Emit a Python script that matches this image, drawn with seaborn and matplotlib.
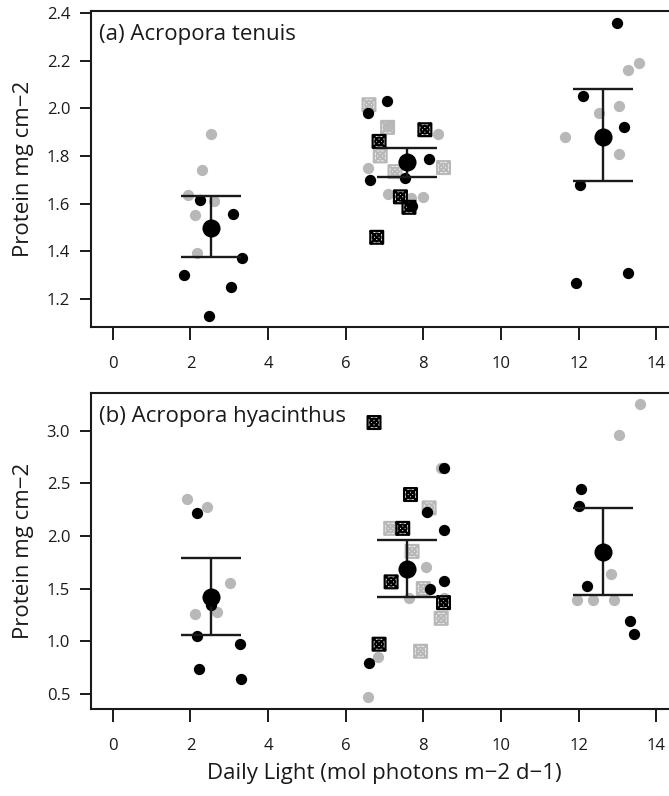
import numpy as np
import pandas as pd
import matplotlib
matplotlib.use("Agg")
import matplotlib.pyplot as plt
from matplotlib.path import Path
import seaborn as sns

# ---------------- data ----------------
x_ticks = [0, 2, 4, 6, 8, 10, 12, 14]
a_yticks = [1.2, 1.4, 1.6, 1.8, 2.0, 2.2, 2.4]
b_yticks = [0.5, 1.0, 1.5, 2.0, 2.5, 3.0]
panel_titles = ["(a) Acropora tenuis", "(b) Acropora hyacinthus"]
x_label = "Daily Light (mol photons m\u22122 d\u22121)"
y_label = "Protein mg cm\u22122"

# Panel (a)
a_black_x = [2.26, 3.10, 3.32, 1.83, 3.05, 2.47, 7.06, 6.58, 8.15, 6.62, 7.53, 7.72,
             12.98, 12.11, 13.16, 12.04, 11.92, 13.27]
a_black_y = [1.616, 1.557, 1.369, 1.299, 1.248, 1.127, 2.030, 1.981, 1.789, 1.698, 1.708, 1.588,
             2.360, 2.050, 1.920, 1.677, 1.268, 1.306]
a_grey_x = [2.54, 2.29, 1.94, 2.60, 2.12, 2.16, 7.09, 8.37, 6.58, 7.08, 8.00, 7.67,
            13.55, 13.27, 13.03, 12.52, 11.65, 13.05]
a_grey_y = [1.892, 1.739, 1.635, 1.609, 1.550, 1.391, 1.927, 1.892, 1.751, 1.638, 1.628, 1.624,
            2.192, 2.160, 2.009, 1.979, 1.880, 1.810]
a_bbox_x = [6.86, 8.04, 7.41, 7.63, 6.80]
a_bbox_y = [1.861, 1.910, 1.628, 1.584, 1.458]
a_gbox_x = [6.60, 7.08, 6.89, 7.27, 8.52]
a_gbox_y = [2.015, 1.920, 1.800, 1.734, 1.751]
a_mean_x = [2.52, 7.58, 12.64]
a_mean = [1.499, 1.775, 1.880]
a_lo = [1.376, 1.711, 1.694]
a_hi = [1.631, 1.835, 2.080]

# Panel (b)
b_black_x = [2.18, 2.54, 2.16, 3.29, 2.21, 3.30, 8.52, 8.10, 8.52, 8.52, 8.16, 6.60,
             12.06, 12.00, 12.22, 13.33, 13.42]
b_black_y = [2.220, 1.344, 1.051, 0.968, 0.739, 0.643, 2.650, 2.229, 2.060, 1.576, 1.497, 0.796,
             2.449, 2.290, 1.525, 1.191, 1.067]
b_grey_x = [1.91, 2.43, 3.02, 2.13, 2.69, 2.49, 8.46, 8.08, 7.63, 8.54, 6.84, 6.58,
            13.58, 13.03, 12.83, 11.95, 12.36, 12.91]
b_grey_y = [2.354, 2.274, 1.551, 1.258, 1.280, 1.424, 2.650, 1.710, 1.408, 1.408, 0.850, 0.468,
            3.255, 2.962, 1.640, 1.392, 1.392, 1.392]
b_bbox_x = [6.73, 7.67, 7.47, 7.17, 6.86, 8.52]
b_bbox_y = [3.080, 2.395, 2.073, 1.564, 0.971, 1.366]
b_gbox_x = [8.15, 7.16, 7.71, 8.46, 7.93, 8.00]
b_gbox_y = [2.268, 2.073, 1.854, 1.217, 0.904, 1.500]
b_mean_x = [2.52, 7.58, 12.64]
b_mean = [1.417, 1.685, 1.844]
b_lo = [1.057, 1.424, 1.436]
b_hi = [1.790, 1.965, 2.268]

# ---------------- style ----------------
sns.set_style("ticks")
plt.rcParams["font.family"] = ["Open Sans", "DejaVu Sans"]
INK = "#1a1a1a"
GREY = "#b8b8b8"

# square with X and inner circle marker
sq = Path([(-1, -1), (1, -1), (1, 1), (-1, 1), (-1, -1)],
          [Path.MOVETO, Path.LINETO, Path.LINETO, Path.LINETO, Path.CLOSEPOLY])
d1 = Path([(-1, -1), (1, 1)], [Path.MOVETO, Path.LINETO])
d2 = Path([(-1, 1), (1, -1)], [Path.MOVETO, Path.LINETO])
circ = Path.circle((0, 0), 0.6)
BOXMARK = Path.make_compound_path(sq, d1, d2, circ)

fig = plt.figure(figsize=(6.69, 7.96), dpi=100)
W, H = 669.0, 796.0
left_px, right_px = 91.0, 678.0
ax_a = fig.add_axes([left_px / W, 1 - 327 / H, (right_px - left_px) / W, 316 / H])
ax_b = fig.add_axes([left_px / W, 1 - 708.5 / H, (right_px - left_px) / W, 315.5 / H])

panels = [
    (ax_a, a_black_x, a_black_y, a_grey_x, a_grey_y, a_bbox_x, a_bbox_y, a_gbox_x, a_gbox_y,
     a_mean_x, a_mean, a_lo, a_hi, a_yticks, (1.081, 2.409), 0.925),
    (ax_b, b_black_x, b_black_y, b_grey_x, b_grey_y, b_bbox_x, b_bbox_y, b_gbox_x, b_gbox_y,
     b_mean_x, b_mean, b_lo, b_hi, b_yticks, (0.359, 3.361), 0.926),
]

for i, (ax, bx, by, gx, gy, bbx, bby, gbx, gby, mx, mm, lo, hi, yt, ylim, ty) in enumerate(panels):
    sns.scatterplot(x=gx, y=gy, ax=ax, color=GREY, s=66, linewidth=0, zorder=2)
    sns.scatterplot(x=gbx, y=gby, ax=ax, marker=BOXMARK, s=85, facecolor="none",
                    edgecolor=GREY, linewidth=1.6, zorder=2)
    sns.scatterplot(x=bx, y=by, ax=ax, color="black", s=66, linewidth=0, zorder=3)
    sns.scatterplot(x=bbx, y=bby, ax=ax, marker=BOXMARK, s=85, facecolor="none",
                    edgecolor="black", linewidth=1.6, zorder=3)
    mm_a = np.array(mm)
    yerr = [mm_a - np.array(lo), np.array(hi) - mm_a]
    ax.errorbar(mx, mm, yerr=yerr, fmt="none", ecolor=INK, elinewidth=1.7,
                capsize=21.5, capthick=1.7, zorder=4)
    sns.scatterplot(x=mx, y=mm, ax=ax, color="black", s=170, linewidth=0, zorder=5)

    ax.set_xlim(-0.56, 14.56)
    ax.set_ylim(*ylim)
    ax.set_xticks(x_ticks)
    ax.set_xticklabels([str(v) for v in x_ticks])
    ax.set_yticks(yt)
    ax.set_yticklabels([f"{v:.1f}" for v in yt])
    for s in ax.spines.values():
        s.set_visible(True)
        s.set_linewidth(1.5)
        s.set_color(INK)
    ax.tick_params(axis="x", length=9, width=1.4, color=INK, pad=12, labelsize=12,
                   labelcolor=INK)
    ax.tick_params(axis="y", length=8, width=1.4, color=INK, pad=7, labelsize=12,
                   labelcolor=INK)
    ax.set_ylabel(y_label, fontsize=16, color=INK)
    ax.yaxis.set_label_coords(-0.097, 0.5)
    ax.text(0.0135, ty, panel_titles[i], transform=ax.transAxes, fontsize=16,
            color=INK, va="center", ha="left")
    ax.grid(False)

ax_a.set_xlabel("")
ax_b.set_xlabel(x_label, fontsize=16, color=INK, labelpad=7)

fig.savefig("out.png", dpi=100)
